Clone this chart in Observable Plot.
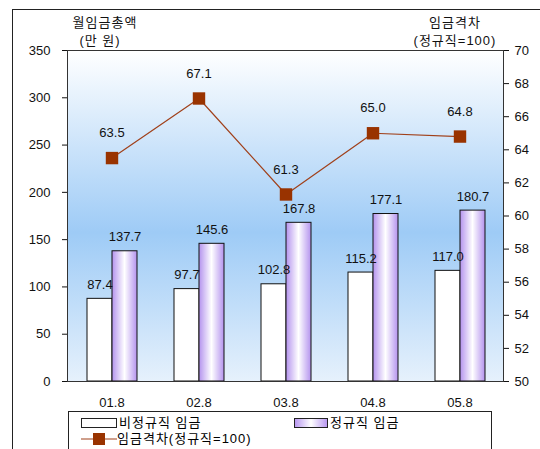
<!DOCTYPE html>
<html><head><meta charset="utf-8">
<script src="https://cdn.jsdelivr.net/npm/d3@7"></script>
<script src="https://cdn.jsdelivr.net/npm/@observablehq/plot@0.6"></script>
<style>
body{margin:0;background:#fff;font-family:"Liberation Sans","Noto Sans CJK KR",sans-serif;}
#wrap{position:relative;width:540px;height:449px;overflow:hidden;}
#outer{position:absolute;left:12px;top:9px;width:540px;height:450px;border-left:1.5px solid #222;border-top:1.5px solid #222;}
.t{position:absolute;font-size:13px;color:#111;text-align:center;letter-spacing:1px;}
#legend{position:absolute;left:68px;top:411px;width:422px;height:40px;border:1px solid #222;background:#fff;font-size:13px;}
#legend div{position:absolute;display:flex;align-items:center;letter-spacing:1px;line-height:14px;height:15px;}
#chart{position:absolute;left:0;top:0;}
</style></head>
<body><div id="wrap">
<div id="outer"></div>
<div id="chart"></div>
<div class="t" style="left:60px;top:12px;width:90px">월임금총액</div>
<div class="t" style="left:60px;top:30px;width:80px">(만 원)</div>
<div class="t" style="left:410px;top:12px;width:90px">임금격차</div>
<div class="t" style="left:400px;top:30px;width:110px">(정규직=100)</div>
<div id="legend">
 <div style="left:12px;top:3px"><span style="display:inline-block;width:34px;height:8px;border:1px solid #222;background:#fff;margin-right:2px"></span>비정규직 임금</div>
 <div style="left:225px;top:3px"><span style="display:inline-block;width:32px;height:8px;border:1px solid #222;background:linear-gradient(90deg,#b898f0,#fff 50%,#b898f0);margin-right:2px"></span>정규직 임금</div>
 <div style="left:12px;top:19px"><svg width="36" height="14"><line x1="0" y1="7" x2="36" y2="7" stroke="#a0401a" stroke-width="1.2"/><rect x="12" y="1" width="12" height="12" fill="#993300"/></svg>임금격차(정규직=100)</div>
</div>
</div>
<script>
const years = ["01.8","02.8","03.8","04.8","05.8"];
const nonRegular = [87.4, 97.7, 102.8, 115.2, 117.0];
const regular = [137.7, 145.6, 167.8, 177.1, 180.7];
const gap = [63.5, 67.1, 61.3, 65.0, 64.8];
const leftTicks = [0,50,100,150,200,250,300,350];
const rightTicks = [50,52,54,56,58,60,62,64,66,68,70];

const k = 350 / 20;
const toLeft = v => (v - 50) * k;
const data = years.map((y, i) => ({year: y, non: nonRegular[i], reg: regular[i], gap: gap[i]}));

const defs = () => {
  const d = d3.create("svg:defs");
  const bg = d.append("linearGradient").attr("id","bg").attr("x1",0).attr("x2",0).attr("y1",0).attr("y2",1);
  bg.append("stop").attr("offset","0%").attr("stop-color","#ffffff");
  bg.append("stop").attr("offset","55%").attr("stop-color","#9ecbf6");
  bg.append("stop").attr("offset","100%").attr("stop-color","#e6f1fc");
  const pg = d.append("linearGradient").attr("id","pg").attr("x1",0).attr("x2",1).attr("y1",0).attr("y2",0);
  pg.append("stop").attr("offset","0%").attr("stop-color","#b493ee");
  pg.append("stop").attr("offset","50%").attr("stop-color","#ffffff");
  pg.append("stop").attr("offset","100%").attr("stop-color","#b493ee");
  return d.node();
};

const font = {fontSize: 13, fill: "#111"};
const chart = Plot.plot({
  width: 540, height: 412,
  marginLeft: 67, marginRight: 37, marginTop: 50, marginBottom: 31,
  style: {fontFamily: "'Liberation Sans','Noto Sans CJK KR',sans-serif", fontSize: "13px", background: "transparent", color: "#111"},
  x: {domain: years, padding: 0, label: null, axis: null},
  y: {domain: [0, 350], label: null, axis: null},
  marks: [
    defs,
    Plot.frame({fill: "url(#bg)"}),
    Plot.barY(data, {x: "year", y: "non", fill: "white", stroke: "#111", strokeWidth: 1, insetLeft: 19, insetRight: 43}),
    Plot.barY(data, {x: "year", y: "reg", fill: "url(#pg)", stroke: "#111", strokeWidth: 1, insetLeft: 44, insetRight: 18}),
    Plot.text(data, {x: "year", y: "non", text: d => d.non.toFixed(1), dx: -12, dy: -14, ...font}),
    Plot.text(data, {x: "year", y: "reg", text: d => d.reg.toFixed(1), dx: 13, dy: -14, ...font}),
    Plot.line(data, {x: "year", y: d => toLeft(d.gap), stroke: "#a0401a", strokeWidth: 1.2}),
    Plot.dot(data, {x: "year", y: d => toLeft(d.gap), symbol: "square", r: 7, fill: "#993300"}),
    Plot.text(data, {x: "year", y: d => toLeft(d.gap), text: d => d.gap.toFixed(1), dy: -25, ...font}),
    Plot.frame({stroke: "#333", strokeWidth: 1}),
    Plot.axisY(leftTicks, {anchor: "left", tickSize: 5, tickPadding: 12, fontSize: 13, label: null}),
    Plot.axisY(rightTicks.map(toLeft), {anchor: "right", tickSize: 5, tickPadding: 6, fontSize: 13, label: null, tickFormat: v => String(Math.round(v / k + 50))}),
    Plot.axisX({anchor: "bottom", tickSize: 0, tickPadding: 16, fontSize: 13, label: null})
  ]
});
document.getElementById("chart").append(chart);
</script>
</body></html>
